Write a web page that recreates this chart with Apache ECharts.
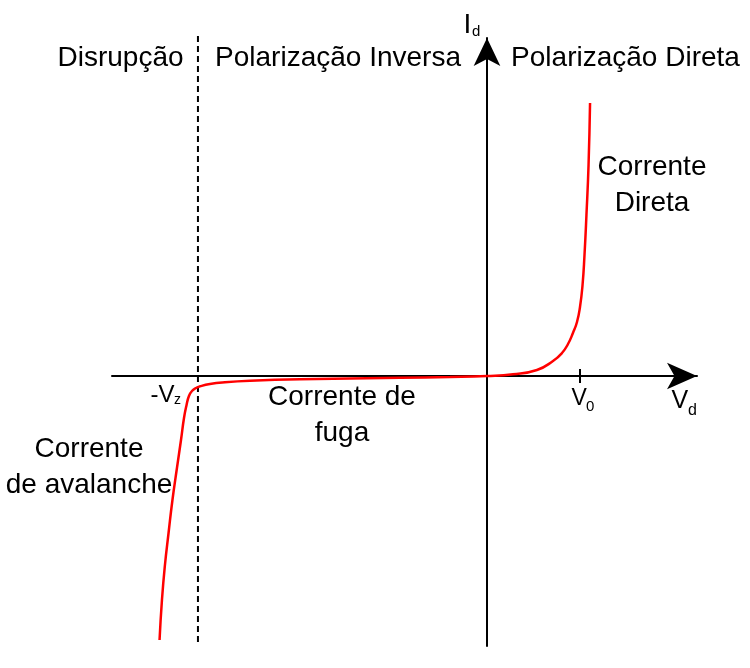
<!DOCTYPE html>
<html>
<head>
<meta charset="utf-8">
<script src="https://cdn.jsdelivr.net/npm/echarts@6/dist/echarts.min.js"></script>
<style>html,body{margin:0;padding:0;background:#fff}#c{width:750px;height:668px}</style>
</head>
<body>
<div id="c"></div>
<script>
// Axis ranges (arbitrary units: voltage Vd, current Id)
const xRange = [-25, 14];
const yRange = [-27, 33.8];
// Characteristic points
const Vz = -19.27;
const V0 = 6.2;
// Diode curve (Vd, Id)
const curveV = [-21.83, -21.67, -21.47, -21.23, -20.97, -20.67, -20.4, -20.2, -20.03, -19.87, -19.67, -19.4, -19.13, -18.47, -17.47, -15.8, -12.47, -5.8, -2.47, 0, 1.73, 3.33, 4.4, 5.0, 5.4, 5.73, 6.0, 6.2, 6.37, 6.5, 6.63, 6.77, 6.87];
const curveI = [-26.4, -22.4, -18.9, -15.7, -12.4, -9.2, -6.4, -4.2, -2.9, -2.0, -1.5, -1.2, -1.03, -0.8, -0.63, -0.48, -0.33, -0.18, -0.1, 0, 0.17, 0.6, 1.5, 2.3, 3.2, 4.3, 5.4, 6.9, 9.1, 12.1, 16.1, 21.1, 27.3];
// Dashed breakdown line extent
const dashI = [34, -26.6];
// Tick half-height at V0
const tickI = [-0.7, 0.7];
// Texts
const regionLabels = ['Disrupção', 'Polarização Inversa', 'Polarização Direta'];
const noteLabels = ['Corrente\nDireta', 'Corrente de\nfuga', 'Corrente\nde avalanche'];

const chart = echarts.init(document.getElementById('c'), null, {renderer: 'canvas'});
const FONT = '"Liberation Sans", Arial, sans-serif';
const txt = (x, y, text, size, align) => ({
  type: 'text', x: x, y: y, silent: true,
  style: {text: text, fontSize: size, fontFamily: FONT, fill: '#000', align: align || 'center', verticalAlign: 'middle', lineHeight: 36}
});
const axisCommon = {
  type: 'value', splitLine: {show: false}, axisTick: {show: false}, axisLabel: {show: false}
};
chart.setOption({
  animation: false,
  backgroundColor: '#fff',
  grid: {left: 112, right: 53, top: 38, bottom: 22},
  xAxis: Object.assign({}, axisCommon, {
    min: xRange[0], max: xRange[1],
    axisLine: {show: true, onZero: true, lineStyle: {color: '#000', width: 2},
      symbol: ['none', 'arrow'], symbolSize: [20, 30], symbolOffset: [0, 0]}
  }),
  yAxis: Object.assign({}, axisCommon, {
    min: yRange[0], max: yRange[1],
    axisLine: {show: true, onZero: true, lineStyle: {color: '#000', width: 2},
      symbol: ['none', 'arrow'], symbolSize: [20, 28], symbolOffset: [0, 0]}
  }),
  series: [
    {
      type: 'line', clip: false, symbol: 'none', silent: true,
      data: dashI.map(i => [Vz, i]),
      lineStyle: {color: '#000', width: 2, type: [6, 4]}
    },
    {
      type: 'line', clip: false, symbol: 'none', silent: true,
      data: tickI.map(i => [V0, i]),
      lineStyle: {color: '#000', width: 2}
    },
    {
      type: 'line', clip: false, symbol: 'none', silent: true,
      smooth: 0.5,
      data: curveV.map((v, k) => [v, curveI[k]]),
      lineStyle: {color: '#ff0000', width: 2.5}
    }
  ],
  graphic: [
    txt(120.5, 58.5, regionLabels[0], 28),
    txt(338, 58.5, regionLabels[1], 28),
    txt(625.5, 58.5, regionLabels[2], 28),
    txt(652, 185, noteLabels[0], 28),
    txt(342, 415, noteLabels[1], 28),
    txt(89, 467, noteLabels[2], 28),
    txt(463.5, 25, 'I', 28, 'left'),
    txt(472, 32, 'd', 15, 'left'),
    txt(671.5, 401.5, 'V', 25, 'left'),
    txt(688, 410.5, 'd', 16, 'left'),
    txt(571.5, 399, 'V', 23, 'left'),
    txt(586, 406.5, '0', 15, 'left'),
    txt(150.5, 395.5, '-V', 24, 'left'),
    txt(174, 400, 'z', 14, 'left')
  ]
});
</script>
</body>
</html>
